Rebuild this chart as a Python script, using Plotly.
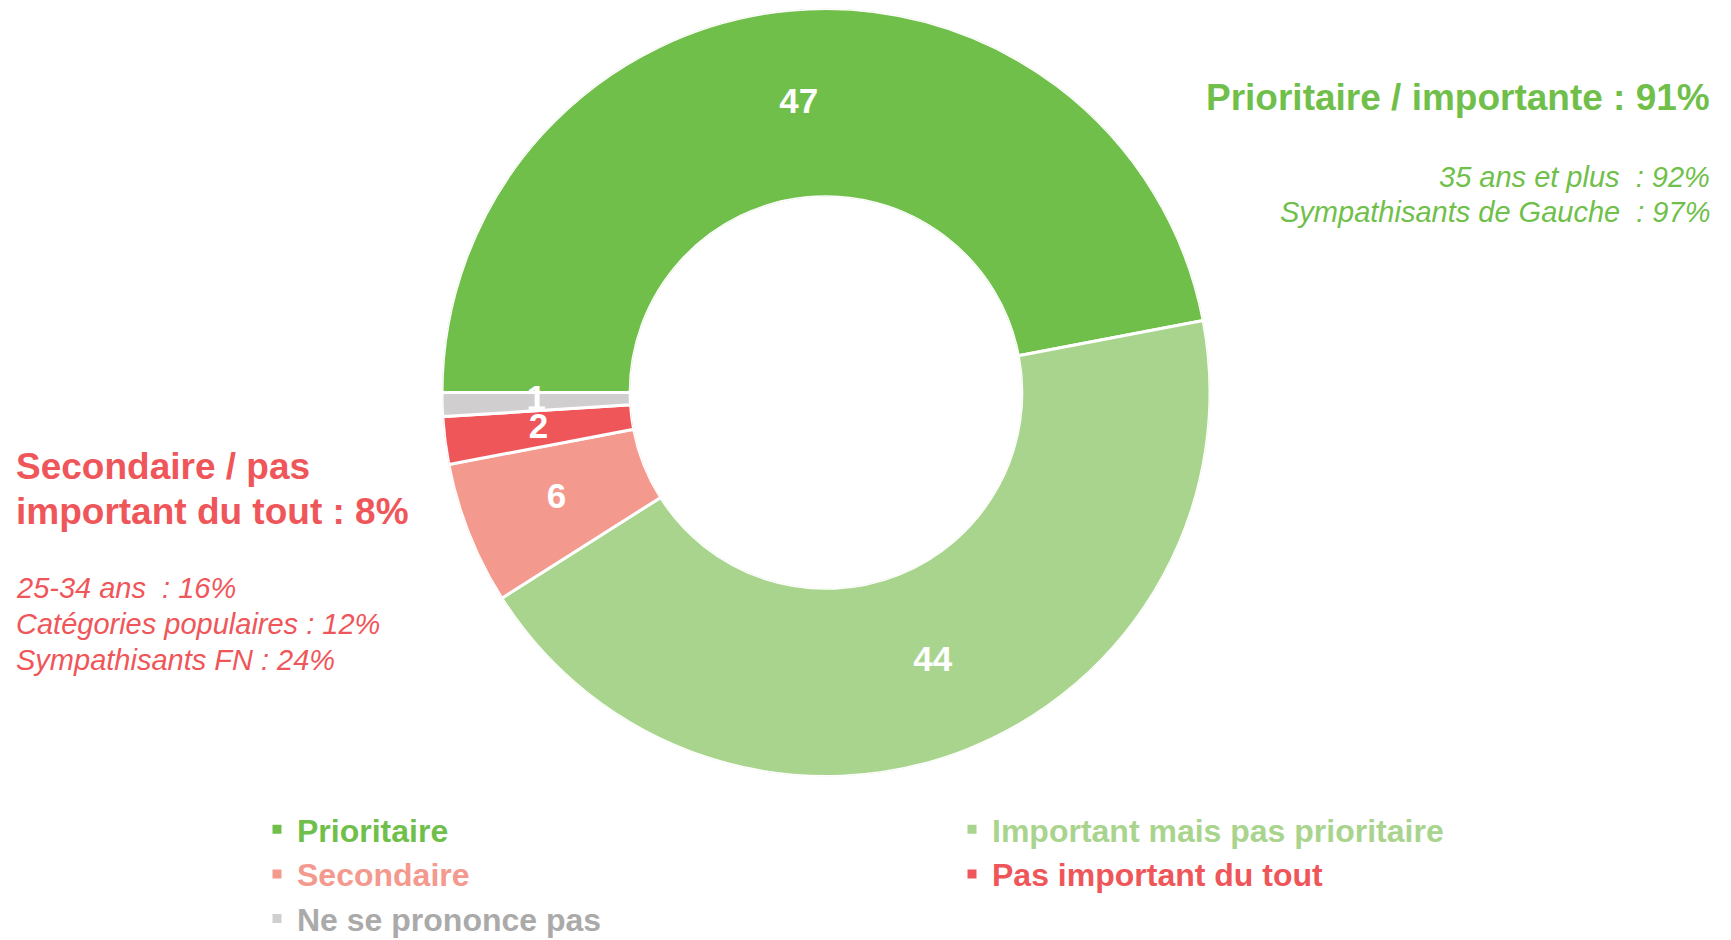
import plotly.graph_objects as go
import numpy as np

categories = ["Prioritaire", "Important mais pas prioritaire", "Secondaire",
              "Pas important du tout", "Ne se prononce pas"]
values = [47, 44, 6, 2, 1]
slice_colors = ["#70BF4B", "#A9D48E", "#F4998E", "#EF565A", "#D0CECF"]
legend_text_colors = ["#70BF4B", "#A9D48E", "#F4998E", "#EF565A", "#ABAAAA"]

green_title = "Prioritaire / importante : 91%"
green_lines = ["35 ans et plus\u00a0 : 92%", "Sympathisants de Gauche\u00a0 : 97%"]
red_title = ["Secondaire / pas", "important du tout : 8%"]
red_lines = ["25-34 ans\u00a0 : 16%", "Catégories populaires : 12%", "Sympathisants FN : 24%"]

W, H = 1731, 940
FONT = "Arial, Liberation Sans, sans-serif"
GREEN = "#70BF4B"
RED = "#EF565A"

# donut geometry (pixels)
cx, cy, R = 826, 392.5, 384
dom_x = [(cx - R) / W, (cx + R) / W]
dom_y = [1 - (cy + R) / H, 1 - (cy - R) / H]
hole = 0.51

vals = np.array(values, dtype=float)
span = vals / vals.sum() * 360
mid_theta = np.cumsum(span) - span / 2

fig = go.Figure()
for i, cat in enumerate(categories):
    fig.add_trace(go.Barpolar(
        r=[1], theta=[mid_theta[i]], width=[span[i]], base=0,
        name=f"<b><span style='color:{legend_text_colors[i]}'>{cat}</span></b>",
        marker=dict(color=slice_colors[i], line=dict(color="white", width=3)),
        hovertemplate=f"{cat}: {values[i]}<extra></extra>",
    ))

fig.add_trace(go.Scatterpolar(
    r=[0.5] * len(values), theta=mid_theta, mode="text",
    text=[f"<b>{v}</b>" for v in values],
    textfont=dict(color="white", size=35, family=FONT),
    showlegend=False, hoverinfo="skip",
))
fig.update_layout(polar=dict(
    domain=dict(x=dom_x, y=dom_y), bgcolor="rgba(0,0,0,0)", hole=hole,
    angularaxis=dict(visible=False, rotation=180, direction="clockwise"),
    radialaxis=dict(visible=False, range=[0, 1]),
))

ann = []
ann.append(dict(text=f"<b>{green_title}</b>", x=1712 / W, y=1 - 98 / H, xanchor="right",
                yanchor="middle", font=dict(size=37, color=GREEN, family=FONT)))
for i, t in enumerate(green_lines):
    ann.append(dict(text=f"<i>{t}</i>", x=1712 / W, y=1 - (177 + 35 * i) / H, xanchor="right",
                    yanchor="middle", font=dict(size=29, color=GREEN, family=FONT)))
for i, t in enumerate(red_title):
    ann.append(dict(text=f"<b>{t}</b>", x=14 / W, y=1 - (466 + 45 * i) / H, xanchor="left",
                    yanchor="middle", font=dict(size=37, color=RED, family=FONT)))
for i, t in enumerate(red_lines):
    ann.append(dict(text=f"<i>{t}</i>", x=14 / W, y=1 - (588 + 36 * i) / H, xanchor="left",
                    yanchor="middle", font=dict(size=29, color=RED, family=FONT)))
for a in ann:
    a.update(xref="paper", yref="paper", showarrow=False)

fig.update_layout(
    width=W, height=H, paper_bgcolor="white", plot_bgcolor="white",
    margin=dict(l=0, r=0, t=0, b=0, autoexpand=False),
    annotations=ann,
    showlegend=True,
    legend=dict(orientation="h", x=257 / W, xanchor="left", y=1 - 802 / H, yanchor="top",
                entrywidth=650, entrywidthmode="pixels", traceorder="normal",
                font=dict(size=32, family=FONT), bgcolor="rgba(0,0,0,0)"),
)

fig.write_html("out.html", config={"displayModeBar": False},
               post_script="document.body.style.margin='0px';")
